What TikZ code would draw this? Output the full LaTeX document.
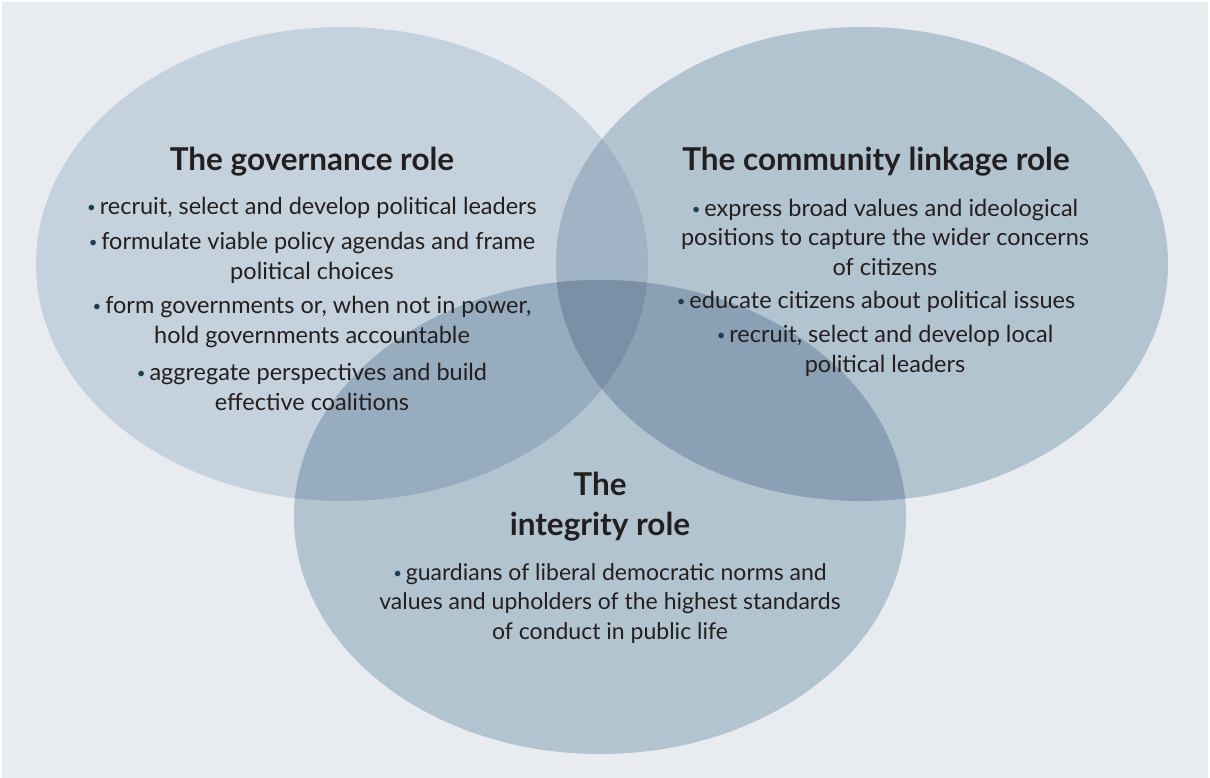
\documentclass[tikz,border=0pt]{standalone}
\usepackage{fontspec}
\setmainfont{Lato}
\usepackage{tikz}

\definecolor{bgcol}{HTML}{E8ECF1}
\definecolor{lcol}{HTML}{C5D2DD}
\definecolor{rcol}{HTML}{B3C4D1}
\definecolor{bcol}{HTML}{B3C4D1}
\definecolor{lrcol}{HTML}{A1B4C6}
\definecolor{lbcol}{HTML}{98ACBF}
\definecolor{rbcol}{HTML}{8AA0B4}
\definecolor{lrbcol}{HTML}{7B90A6}
\definecolor{textc}{HTML}{231F20}
\definecolor{dotc}{HTML}{1D3F4F}

\newcommand{\itemdot}{{\color{dotc}\fontsize{15}{15}\selectfont\raisebox{2pt}{•}}\,}

\tikzset{
	venn/.style={x radius=306pt, y radius=237pt},
	head/.style={font=\fontsize{31.5}{40}\selectfont\bfseries, text=textc, align=center, inner sep=0pt},
	item/.style={font=\fontsize{23.5}{29.5}\selectfont, text=textc, align=center, inner sep=0pt}
}

\begin{document}
\begin{tikzpicture}[x=1pt,y=-1pt]
			\useasboundingbox (0,0) rectangle (1210,778);
			\fill[white] (0,0) rectangle (1210,778);
			\fill[bgcol] (2,2) rectangle (1208,778);
			
			\coordinate (L) at (342,264);
			\coordinate (R) at (862,264);
			\coordinate (B) at (600,517);
			
			% Single circles
			\fill[lcol] (L) ellipse [venn];
			\fill[rcol] (R) ellipse [venn];
			\fill[bcol] (B) ellipse [venn];
			
			% Pairwise overlaps
			\begin{scope}
				\clip (L) ellipse [venn];
				\fill[lrcol] (R) ellipse [venn];
				\fill[lbcol] (B) ellipse [venn];
			\end{scope}
			\begin{scope}
				\clip (R) ellipse [venn];
				\fill[rbcol] (B) ellipse [venn];
			\end{scope}
			
			% Centre, all three
			\begin{scope}
				\clip (L) ellipse [venn];
				\clip (R) ellipse [venn];
				\fill[lrbcol] (B) ellipse [venn];
			\end{scope}
			
			% Governance
			\node[head] (govhead) at (312,162) {The governance role};
			\node[item] (gov1) at (312,208) {\itemdot recruit, select and develop political leaders};
			\node[item] (gov2) at (312,258) {\itemdot formulate viable policy agendas and frame\\political choices};
			\node[item] (gov3) at (312,322) {\itemdot form governments or, when not in power,\\hold governments accountable};
			\node[item] (gov4) at (312,387) {\itemdot aggregate perspectives and build\\effective coalitions};
			
			% Community linkage
			\node[head] (comhead) at (876,162) {The community linkage role};
			\node[item] (com1) at (885,237) {\itemdot express broad values and ideological\\positions to capture the wider concerns\\of citizens};
			\node[item] (com2) at (876,302) {\itemdot educate citizens about political issues};
			\node[item] (com3) at (885,351) {\itemdot recruit, select and develop local\\political leaders};
			
			% Integrity
			\node[head] (inthead) at (600,507) {The\\integrity role};
			\node[item, font=\fontsize{23}{29.5}\selectfont] (int1) at (610,603) {\itemdot guardians of liberal democratic norms and\\values and upholders of the highest standards\\of conduct in public life};
		\end{tikzpicture}
\end{document}
